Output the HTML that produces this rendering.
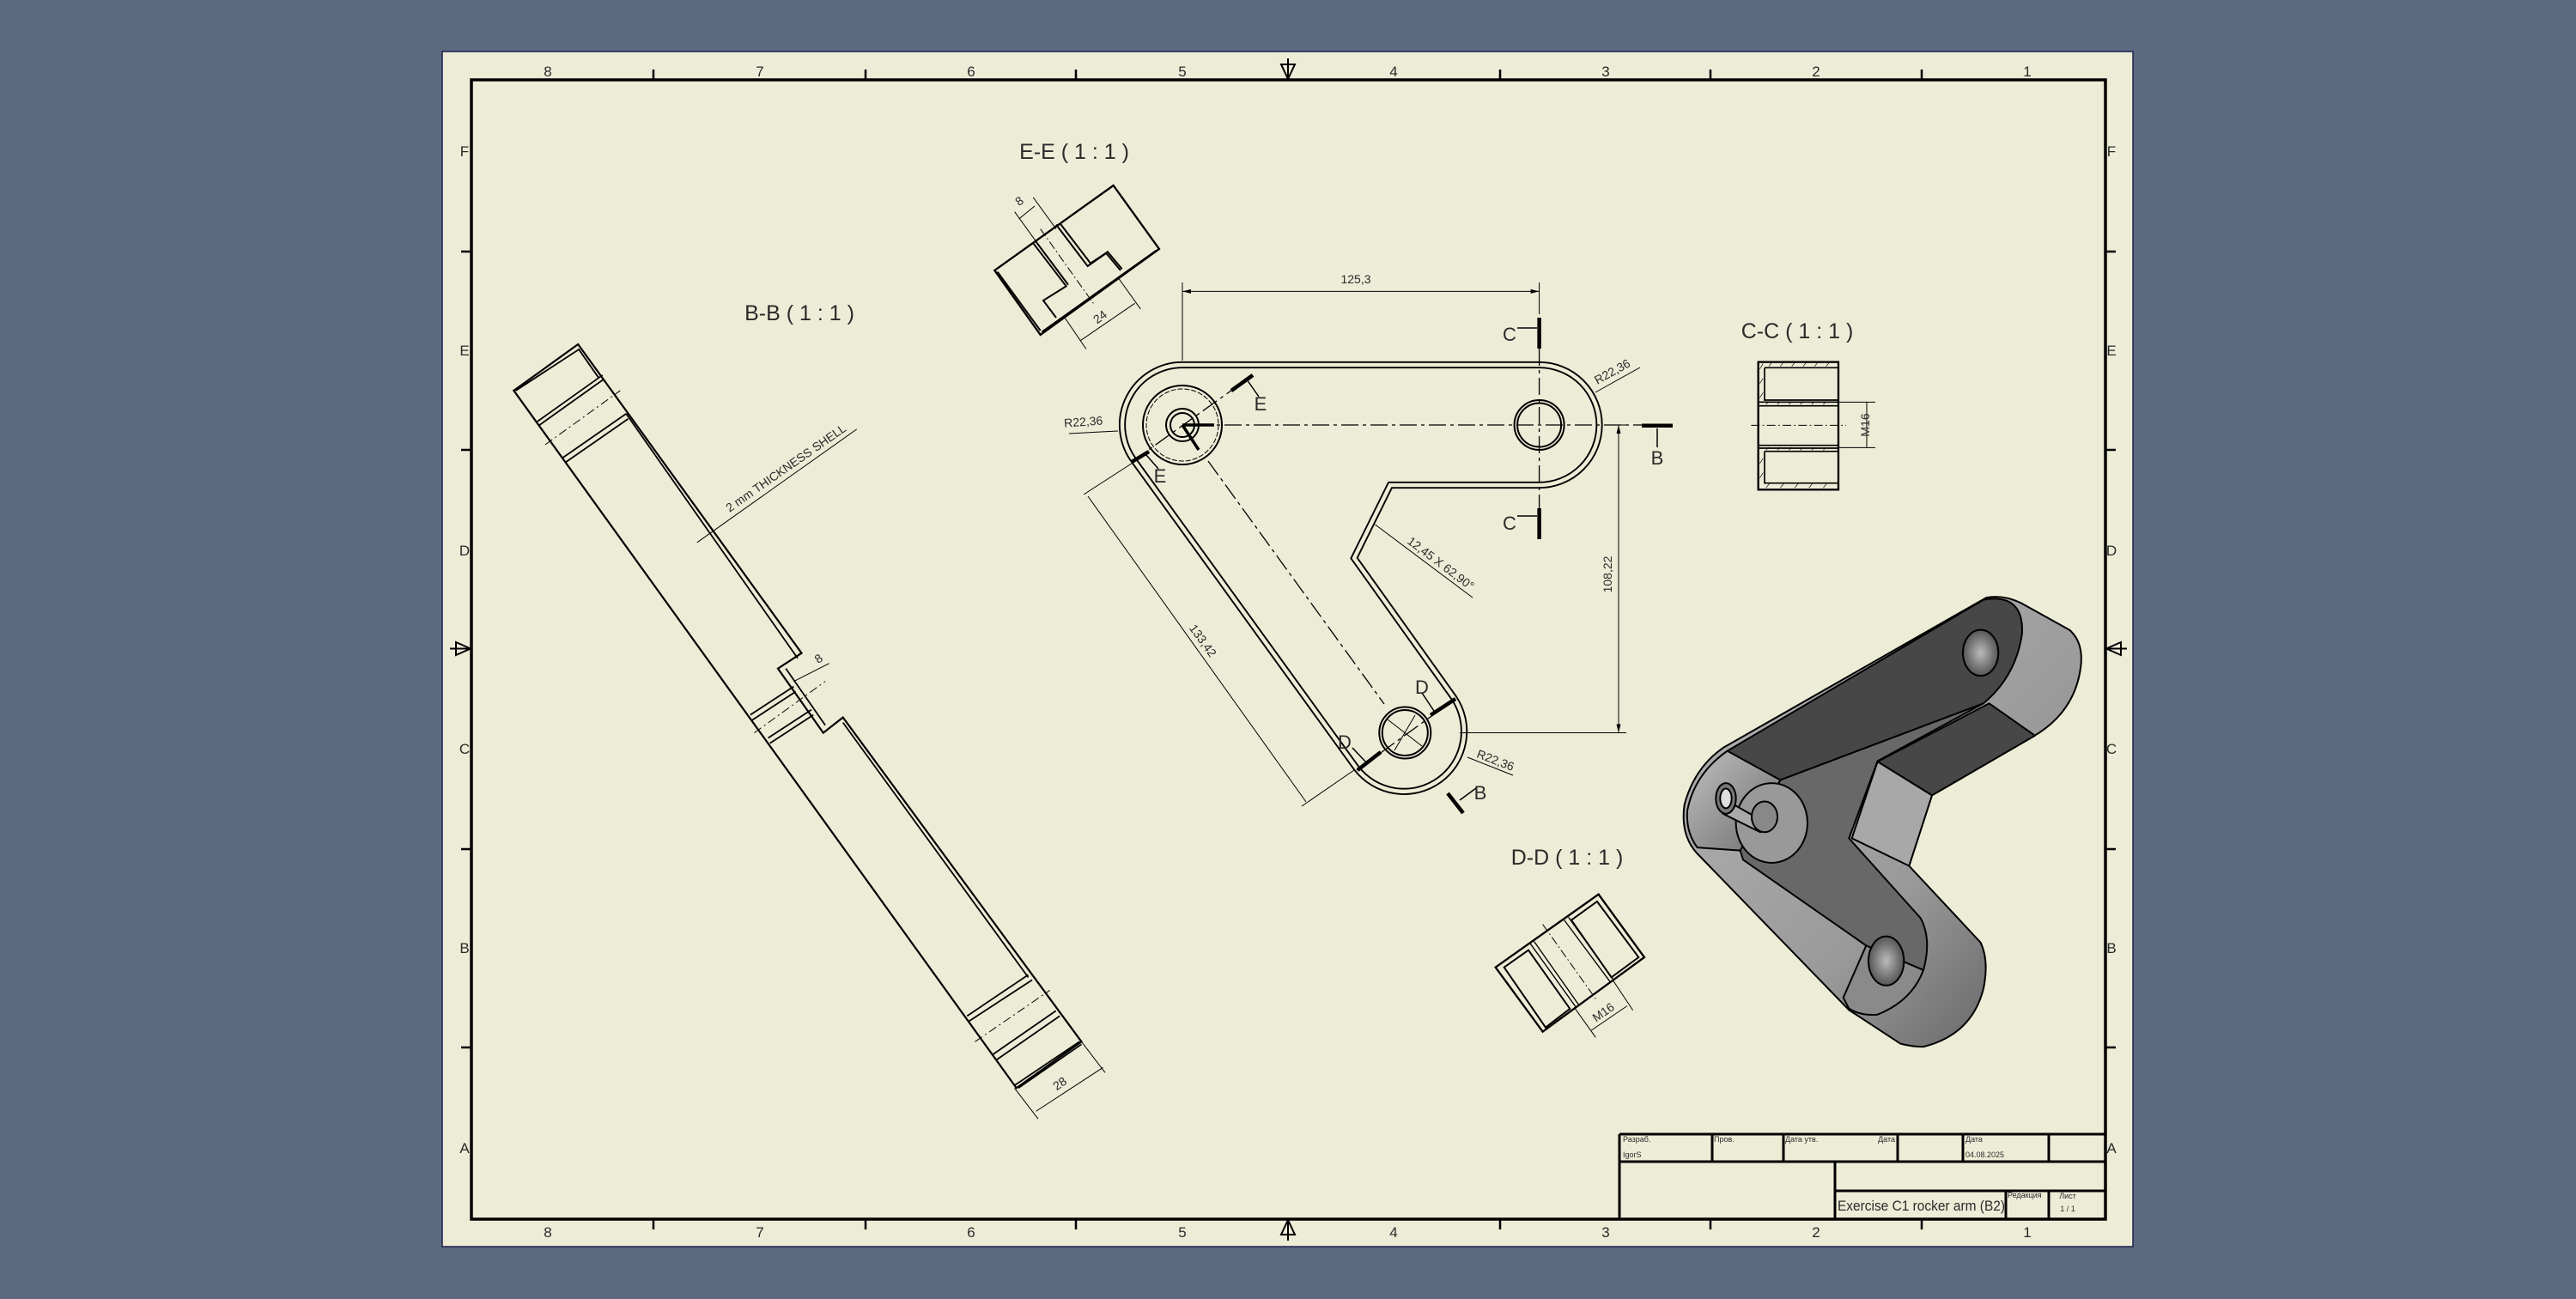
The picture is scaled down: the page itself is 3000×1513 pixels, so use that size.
<!DOCTYPE html>
<html><head><meta charset="utf-8"><style>
html,body{margin:0;padding:0;background:#5b6a7f;}
svg{display:block}
text{font-family:"Liberation Sans","DejaVu Sans",sans-serif;fill:#2a2a2a}
</style></head><body>
<svg width="3000" height="1513" viewBox="0 0 3000 1513" xmlns="http://www.w3.org/2000/svg">
<rect width="3000" height="1513" fill="#5b6a7f"/>
<rect x="515" y="60" width="1969" height="1392" fill="#edecd7" stroke="#1e1e50" stroke-width="1.5"/>
<rect x="549" y="93" width="1903" height="1327" fill="none" stroke="#000" stroke-width="3.5"/>
<g stroke="#000" stroke-width="2.5">
<path d="M761 81V93M1008 81V93M1253 81V93M1747 81V93M1992 81V93M2238 81V93"/>
<path d="M761 1420V1432M1008 1420V1432M1253 1420V1432M1747 1420V1432M1992 1420V1432M2238 1420V1432"/>
<path d="M537 293H549M537 524H549M537 989H549M537 1220H549"/>
<path d="M2452 293H2464M2452 524H2464M2452 989H2464M2452 1220H2464"/>
</g>
<g fill="none" stroke="#000" stroke-width="2">
<path d="M1492 75L1508 75L1500 92Z"/><path d="M1492 1438L1508 1438L1500 1421Z"/>
<path d="M531 748L531 763L548 755.5Z"/><path d="M2470 748L2470 763L2453 755.5Z"/>
<path d="M1500 68V92M1500 1421V1445M524 755.5H548M2453 755.5H2477"/>
</g>
<g font-size="17" text-anchor="middle">
<text x="638" y="89">8</text><text x="885" y="89">7</text><text x="1131" y="89">6</text><text x="1377" y="89">5</text><text x="1623" y="89">4</text><text x="1870" y="89">3</text><text x="2115" y="89">2</text><text x="2361" y="89">1</text>
<text x="638" y="1441">8</text><text x="885" y="1441">7</text><text x="1131" y="1441">6</text><text x="1377" y="1441">5</text><text x="1623" y="1441">4</text><text x="1870" y="1441">3</text><text x="2115" y="1441">2</text><text x="2361" y="1441">1</text>
<text x="541" y="182">F</text><text x="541" y="414">E</text><text x="541" y="647">D</text><text x="541" y="878">C</text><text x="541" y="1110">B</text><text x="541" y="1343">A</text>
<text x="2459" y="182">F</text><text x="2459" y="414">E</text><text x="2459" y="647">D</text><text x="2459" y="878">C</text><text x="2459" y="1110">B</text><text x="2459" y="1343">A</text>
</g>

<!-- title block -->
<g fill="none" stroke="#000" stroke-width="3">
<path d="M1886 1321H2452M1886 1353H2452M2137 1387H2452M1886 1321V1420M1994 1321V1353M2077 1321V1353M2210 1321V1353M2286 1321V1353M2386 1321V1353M2137 1353V1420M2336 1387V1420M2386 1387V1420"/>
</g>
<g font-size="9">
<text x="1890" y="1330">Разраб.</text><text x="1890" y="1348">IgorS</text>
<text x="1996" y="1330">Пров.</text><text x="2079" y="1330">Дата утв.</text>
<text x="2207" y="1330" text-anchor="end">Дата</text>
<text x="2289" y="1330">Дата</text><text x="2289" y="1348">04.08.2025</text>
<text x="2338" y="1395">Редакция</text>
<text x="2408" y="1396" text-anchor="middle">Лист</text><text x="2408" y="1411" text-anchor="middle">1 / 1</text>
</g>
<text x="2140" y="1410" font-size="17" textLength="195" lengthAdjust="spacingAndGlyphs">Exercise C1 rocker arm (B2)</text>

<!-- view titles -->
<g font-size="25">
<text x="1251" y="185" text-anchor="middle">E-E ( 1 : 1 )</text>
<text x="931" y="373" text-anchor="middle">B-B ( 1 : 1 )</text>
<text x="2093" y="394" text-anchor="middle">C-C ( 1 : 1 )</text>
<text x="1825" y="1007" text-anchor="middle">D-D ( 1 : 1 )</text>
</g>

<!-- MAIN VIEW -->
<g fill="none">
<path d="M1377 425H1792.6A70 70 0 0 1 1792.6 565H1619L1577 650L1693 812.5A70 70 0 0 1 1579.6 894.5L1320.3 536A70 70 0 0 1 1377 425Z" stroke="#000" stroke-width="8.2"/>
<path d="M1377 425H1792.6A70 70 0 0 1 1792.6 565H1619L1577 650L1693 812.5A70 70 0 0 1 1579.6 894.5L1320.3 536A70 70 0 0 1 1377 425Z" stroke="#edecd7" stroke-width="4.4"/>
</g>
<g fill="none" stroke="#000" stroke-width="2">
<circle cx="1377" cy="495" r="46"/><circle cx="1377" cy="495" r="42" stroke-width="1" stroke-dasharray="6 2"/>
<circle cx="1377" cy="495" r="19"/><circle cx="1377" cy="495" r="14"/>
<circle cx="1792.6" cy="495" r="29"/><circle cx="1792.6" cy="495" r="25.5"/>
<circle cx="1636.3" cy="853.5" r="30"/><circle cx="1636.3" cy="853.5" r="26.5"/>
<path d="M1616 838L1656 869M1624 874L1648 833" stroke-width="1"/>
<path d="M1377 495H1414M1377 495L1396 524" stroke-width="3.5"/>
</g>
<g fill="none" stroke="#000" stroke-width="1.3" stroke-dasharray="20 5 4 5">
<path d="M1392 495H1912"/>
<path d="M1792.6 372V628"/>
<path d="M1407 537L1612 820"/>
<path d="M1318 538L1456 439"/>
<path d="M1580 897L1695 814"/>
</g>
<g stroke="#000" fill="none">
<path d="M1792.6 370V406M1792.6 592V628M1912 495.7H1948M1434 455L1459 437M1318 538L1338 526M1666 833L1695 814M1581 897L1608 876M1686 924L1704 947" stroke-width="4.5"/>
<path d="M1767 382H1790M1767 601H1790M1930 521V499M1466 462L1452 442M1349 546L1335 530M1656 807L1670 828M1575 871L1592 889M1719 918L1700 932" stroke-width="1.5"/>
</g>
<g font-size="22" text-anchor="middle">
<text x="1758" y="397">C</text><text x="1758" y="617">C</text>
<text x="1930" y="541">B</text><text x="1724" y="931">B</text>
<text x="1468" y="478">E</text><text x="1351" y="562">E</text>
<text x="1656" y="808">D</text><text x="1566" y="872">D</text>
</g>
<!-- dimensions main -->
<g stroke="#000" stroke-width="1" fill="none">
<path d="M1377 329V420M1792.6 329V366M1377 339.4H1792.6"/>
<path d="M1885 495V853.5M1700 853.5H1894M1870 495H1894"/>
<path d="M1327 534L1262 576M1577 897L1516 939M1267 578L1521 934"/>
<path d="M1601.5 611L1715 696M1858 457L1910 428M1709 882L1762 903M1245 505L1302 502"/>
</g>
<g fill="#000">
<path d="M1377 339.4l10 -2.5v5zM1792.6 339.4l-10 -2.5v5zM1885 495l-2.5 10h5zM1885 853.5l-2.5 -10h5z"/>
</g>
<g font-size="14" text-anchor="middle">
<text x="1579" y="330">125,3</text>
<text transform="translate(1877,669) rotate(-90)">108,22</text>
<text transform="translate(1397,749) rotate(54)">133,42</text>
<text transform="translate(1675,660) rotate(37)">12,45 X 62,90°</text>
<text transform="translate(1880,437) rotate(-29)">R22,36</text>
<text transform="translate(1740,890) rotate(21)">R22,36</text>
<text transform="translate(1262,496) rotate(-4)">R22,36</text>
</g>

<!-- E-E view -->
<g transform="translate(1140,140) scale(0.3333)" fill="none" stroke="#000">
<path d="M55 525L470 228L630 450L215 750Z" stroke-width="7"/>
<path d="M65 530L215 735M270 365L380 510L445 465L495 525M283 360L390 500L450 460L500 520M190 430L305 580L225 630L270 690M200 425L312 575M620 455L220 740" stroke-width="6"/>
<path d="M215 380L400 640" stroke-width="3" stroke-dasharray="30 10 5 10"/>
<path d="M125 320L215 445M190 270L270 380M140 345L195 300M300 690L375 800M490 555L565 660M355 770L545 640" stroke-width="3"/>
</g>
<text transform="translate(1190,238) rotate(-37)" font-size="14" text-anchor="middle">8</text>
<text transform="translate(1284,373) rotate(-37)" font-size="14" text-anchor="middle">24</text>

<!-- D-D view -->
<g transform="translate(1720,960) scale(0.3333)" fill="none" stroke="#000">
<path d="M65 500L425 245L585 465L230 725Z" stroke-width="7"/>
<path d="M95 500L180 440L325 645L240 710ZM330 335L420 270L565 465L470 535Z" stroke-width="6"/>
<path d="M185 415L345 638M200 410L355 630M305 335L465 550M320 325L478 545" stroke-width="4"/>
<path d="M230 350L415 610" stroke-width="3" stroke-dasharray="30 10 5 10"/>
<path d="M340 640L415 745M475 545L545 650M400 720L525 635" stroke-width="3"/>
</g>
<text transform="translate(1870,1183) rotate(-35)" font-size="14" text-anchor="middle">M16</text>

<!-- C-C view -->
<g transform="translate(2020,360) scale(0.3333)" fill="none" stroke="#000">
<rect x="83" y="185" width="280" height="446" stroke-width="7"/>
<path d="M105 205H360M105 205V318H360M105 497V608H360M105 497H360M83 325H363M83 338H363M83 476H363M83 486H363" stroke-width="5"/>
<path d="M88 210l12 -20M120 200l12 -15M160 200l12 -15M200 200l12 -15M240 200l12 -15M280 200l12 -15M320 200l12 -15M88 260l12 -18M88 310l12 -18M110 333l10 -10M150 333l10 -10M190 333l10 -10M230 333l10 -10M270 333l10 -10M310 333l10 -10M110 493l10 -10M150 493l10 -10M190 493l10 -10M230 493l10 -10M270 493l10 -10M310 493l10 -10M88 540l12 -18M88 590l12 -18M110 625l12 -15M160 625l12 -15M210 625l12 -15M260 625l12 -15M310 625l12 -15" stroke-width="2"/>
<path d="M58 406H390" stroke-width="3" stroke-dasharray="30 10 5 10"/>
<path d="M363 325H492M363 484H492M462 325V484" stroke-width="3"/>
</g>
<text transform="translate(2177,495) rotate(-90)" font-size="14" text-anchor="middle">M16</text>

<!-- B-B view -->
<g transform="translate(580,380) scale(0.4591,0.5995)" fill="none" stroke="#000">
<path d="M40 125L203 35L770 635L710 665L825 790L875 760L1480 1390L1315 1480Z" stroke-width="2.2" vector-effect="non-scaling-stroke"/>
<path d="M325 170L760 645M875 770L1345 1265M730 665L830 775" stroke-width="1.8" vector-effect="non-scaling-stroke"/>
<path d="M45 125L205 45L255 100M100 185L265 95M105 192L268 103M165 255L325 170M170 265L330 180M640 755L750 700M645 765L755 710M685 800L795 745M690 810L800 755M1190 1340L1345 1260M1195 1350L1355 1270M1255 1415L1415 1330M1265 1425L1425 1340M1310 1475L1475 1390M1320 1480L1480 1395" stroke-width="1.8" vector-effect="non-scaling-stroke"/>
<path d="M120 230L310 125M650 790L830 690M1210 1390L1400 1290" stroke-width="1" stroke-dasharray="10 4 2 4" vector-effect="non-scaling-stroke"/>
<path d="M505 420L910 200M750 690L840 655M1365 1525L1535 1440M1310 1480L1370 1540M1480 1390L1540 1450" stroke-width="1" vector-effect="non-scaling-stroke"/>
</g>
<text transform="translate(918,549) rotate(-35)" font-size="14" text-anchor="middle">2 mm THICKNESS SHELL</text>
<text transform="translate(956,771) rotate(-35)" font-size="14" text-anchor="middle">8</text>
<text transform="translate(1237,1266) rotate(-35)" font-size="14" text-anchor="middle">28</text>

<!-- ISO view -->
<defs>
<linearGradient id="gl" x1="0" y1="0" x2="1" y2="1"><stop offset="0" stop-color="#c0c0c0"/><stop offset="1" stop-color="#6e6e6e"/></linearGradient>
<linearGradient id="gr" x1="0" y1="0" x2="1" y2="1"><stop offset="0" stop-color="#b5b5b5"/><stop offset="0.6" stop-color="#9a9a9a"/><stop offset="1" stop-color="#555"/></linearGradient>
<radialGradient id="gh"><stop offset="0" stop-color="#bbb"/><stop offset="1" stop-color="#555"/></radialGradient>
</defs>
<g transform="translate(1940,680) scale(0.3333,0.3571)" stroke="#000" stroke-width="2" stroke-linejoin="round">
<path d="M200 535L1120 45Q1180 35 1240 62L1410 150Q1460 190 1450 270Q1430 420 1280 500L930 690L850 920L1100 1170Q1130 1230 1110 1320Q1070 1470 900 1510Q860 1510 820 1500L640 1390L110 880Q50 820 65 720Q100 600 200 535Z" fill="url(#gr)" vector-effect="non-scaling-stroke"/>
<path d="M740 580L1130 390L1290 495L930 690Z" fill="#474747" vector-effect="non-scaling-stroke"/>
<path d="M740 580L930 690L850 920L650 830Z" fill="#a8a8a8" vector-effect="non-scaling-stroke"/>
<path d="M215 545L1110 52Q1250 30 1245 160Q1225 300 1110 390L400 640L220 550Z" fill="#474747" vector-effect="non-scaling-stroke"/>
<path d="M1110 390L740 578L640 830L890 1090Q930 1160 900 1260L700 1180L270 900L260 870L400 640Z" fill="#686868" vector-effect="non-scaling-stroke"/>
<path d="M700 1180L900 1260Q860 1360 740 1405Q680 1410 640 1385L620 1350Z" fill="#8a8a8a" vector-effect="non-scaling-stroke"/>
<path d="M215 545Q100 620 75 740Q70 810 110 860L260 870L400 640Z" fill="url(#gl)" vector-effect="non-scaling-stroke"/>
<ellipse cx="370" cy="780" rx="125" ry="130" fill="#999" vector-effect="non-scaling-stroke"/>
<path d="M180 690L370 790L330 810L200 750Z" fill="#aaa" vector-effect="non-scaling-stroke"/>
<ellipse cx="345" cy="760" rx="45" ry="50" fill="#888" vector-effect="non-scaling-stroke"/>
<ellipse cx="210" cy="700" rx="35" ry="50" fill="#777" vector-effect="non-scaling-stroke"/>
<ellipse cx="210" cy="700" rx="20" ry="32" fill="#ddd" vector-effect="non-scaling-stroke"/>
<ellipse cx="1100" cy="225" rx="62" ry="75" fill="url(#gh)" vector-effect="non-scaling-stroke"/>
<ellipse cx="770" cy="1230" rx="62" ry="80" fill="url(#gh)" vector-effect="non-scaling-stroke"/>
</g>
</svg>
</body></html>
